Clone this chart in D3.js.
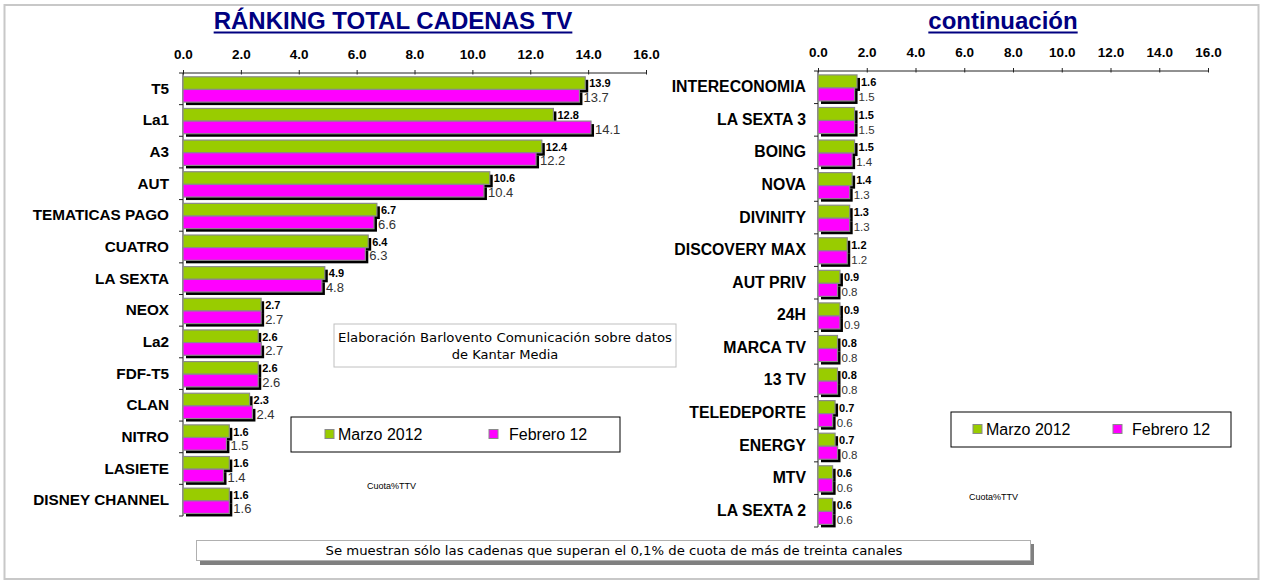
<!DOCTYPE html>
<html>
<head>
<meta charset="utf-8">
<script src="https://cdn.jsdelivr.net/npm/d3@7"></script>
<style>
  body { margin: 0; background: #fff; }
  svg { display: block; font-family: "Liberation Sans", Arial, sans-serif; }
</style>
</head>
<body>
<script>
// datos (cuota %)
var canalesA = ["T5", "La1", "A3", "AUT", "TEMATICAS PAGO", "CUATRO", "LA SEXTA", "NEOX", "La2", "FDF-T5", "CLAN", "NITRO", "LASIETE", "DISNEY CHANNEL"];
var marzoA = [13.9, 12.8, 12.4, 10.6, 6.7, 6.4, 4.9, 2.7, 2.6, 2.6, 2.3, 1.6, 1.6, 1.6];
var febreroA = [13.7, 14.1, 12.2, 10.4, 6.6, 6.3, 4.8, 2.7, 2.7, 2.6, 2.4, 1.5, 1.4, 1.6];

var canalesB = ["INTERECONOMIA", "LA SEXTA 3", "BOING", "NOVA", "DIVINITY", "DISCOVERY MAX", "AUT PRIV", "24H", "MARCA TV", "13 TV", "TELEDEPORTE", "ENERGY", "MTV", "LA SEXTA 2"];
var marzoB = [1.6, 1.5, 1.5, 1.4, 1.3, 1.2, 0.9, 0.9, 0.8, 0.8, 0.7, 0.7, 0.6, 0.6];
var febreroB = [1.5, 1.5, 1.4, 1.3, 1.3, 1.2, 0.8, 0.9, 0.8, 0.8, 0.6, 0.8, 0.6, 0.6];

var ticks = [0, 2, 4, 6, 8, 10, 12, 14, 16];
var series = ["Marzo 2012", "Febrero 12"];
var colores = ["#99cc00", "#ff00ff"];

var W = 1263, H = 584;
var svg = d3.select("body").append("svg").attr("width", W).attr("height", H);

// marco exterior
svg.append("rect").attr("x", 4.5).attr("y", 5).attr("width", 1254).attr("height", 574)
    .style("fill", "none").style("stroke", "#c8c8c8").style("stroke-width", 2);

function panel(o) {
  var x = d3.scaleLinear().domain([0, 16]).range([o.left, o.right]);
  var y = d3.scaleBand().domain(o.cats).range([o.top, o.bottom]);
  var g = svg.append("g");

  // titulo
  var t = g.append("text").attr("x", o.titleX).attr("y", 29)
      .attr("text-anchor", "middle")
      .style("font-size", "24px").style("font-weight", "bold").style("fill", "#000080")
      .text(o.title);
  var bb = t.node().getBBox();
  g.append("rect").attr("x", bb.x).attr("y", 31.5).attr("width", bb.width).attr("height", 2)
      .style("fill", "#000080");

  // eje superior
  var ax = g.append("g").attr("transform", "translate(0," + o.top + ")")
      .call(d3.axisTop(x).tickValues(ticks).tickFormat(d3.format(".1f")).tickSize(3).tickSizeOuter(0).tickPadding(11));
  ax.select(".domain").attr("d", "M" + (o.left - 4) + ",0H" + o.right).style("stroke", "#222");
  ax.selectAll(".tick line").attr("y2", -3).attr("y1", 1.5).style("stroke", "#222");
  ax.selectAll(".tick text").style("font-size", "13.5px").style("font-weight", "bold")
      .style("font-family", "'Liberation Sans', Arial, sans-serif").style("fill", "#000");

  // eje vertical
  g.append("line").attr("x1", o.left).attr("x2", o.left).attr("y1", o.top).attr("y2", o.bottom)
      .style("stroke", "#222");
  g.selectAll(".ytick").data(o.cats).enter().append("line")
      .attr("x1", o.left - 4).attr("x2", o.left)
      .attr("y1", function(d) { return y(d) + y.bandwidth(); })
      .attr("y2", function(d) { return y(d) + y.bandwidth(); })
      .style("stroke", "#222");

  // etiquetas categoria
  g.selectAll(".cat").data(o.cats).enter().append("text")
      .attr("x", o.left - o.labelGap)
      .attr("y", function(d) { return y(d) + y.bandwidth() / 2 + 5; })
      .attr("text-anchor", "end")
      .style("font-size", o.catSize).style("font-weight", "bold").style("fill", "#000")
      .text(function(d) { return d; });

  var bh = y.bandwidth() * 0.4;
  var off = y.bandwidth() * 0.12;
  var vals = [o.marzo, o.febrero];

  vals.forEach(function(v, s) {
    var rows = o.cats.map(function(c, i) { return {c: c, v: v[i]}; });
    var gy = function(d) { return y(d.c) + off + s * bh; };
    var sg = g.append("g");
    // sombra
    sg.selectAll(".sh").data(rows).enter().append("rect")
        .attr("x", x(0) + 3).attr("y", function(d) { return gy(d) + 3; })
        .attr("width", function(d) { return x(d.v) - x(0); })
        .attr("height", bh)
        .style("fill", "#000");
    sg.selectAll(".bar").data(rows).enter().append("rect")
        .attr("x", x(0)).attr("y", gy)
        .attr("width", function(d) { return x(d.v) - x(0); })
        .attr("height", bh)
        .style("fill", colores[s]).style("stroke", "#8a8a8a").style("stroke-width", 1.2);
  });

  // valores
  vals.forEach(function(v, s) {
    var rows = o.cats.map(function(c, i) { return {c: c, v: v[i]}; });
    g.selectAll(".val" + s).data(rows).enter().append("text")
        .attr("x", function(d) { return x(d.v) + 4; })
        .attr("y", function(d) { return y(d.c) + off + s * bh + bh - (s == 0 ? 2 : 0); })
        .style("font-size", s == 0 ? "11px" : o.pinkSize)
        .style("font-weight", s == 0 ? "bold" : "normal")
        .style("fill", s == 0 ? "#000" : "#333")
        .text(function(d) { return d3.format(".1f")(d.v); });
  });
}

panel({cats: canalesA, marzo: marzoA, febrero: febreroA, left: 183, right: 646, top: 73, bottom: 516,
       title: "RÁNKING TOTAL CADENAS TV", titleX: 393, labelGap: 14, pinkSize: "13px", catSize: "15.3px"});
panel({cats: canalesB, marzo: marzoB, febrero: febreroB, left: 818, right: 1208, top: 71, bottom: 527,
       title: "continuación", titleX: 1003, labelGap: 12, pinkSize: "11.5px", catSize: "15.8px"});

// leyendas
function leyenda(bx, by, bw, bhh, pos) {
  var g = svg.append("g");
  g.append("rect").attr("x", bx).attr("y", by).attr("width", bw).attr("height", bhh)
      .style("fill", "#fff").style("stroke", "#000").style("stroke-width", 1);
  series.forEach(function(s, i) {
    g.append("rect").attr("x", pos[i][0]).attr("y", by + bhh / 2 - 5).attr("width", 9).attr("height", 9)
        .style("fill", colores[i]).style("stroke", "#8a8a8a");
    g.append("text").attr("x", pos[i][1]).attr("y", by + bhh / 2 + 5.5)
        .style("font-size", "16px").style("fill", "#000").text(s);
  });
}
leyenda(291, 417, 329, 35, [[325, 338], [489, 509]]);
leyenda(951, 412, 280, 35, [[973, 986], [1113, 1132]]);

svg.append("text").attr("x", 367).attr("y", 489).style("font-size", "9px").text("Cuota%TTV");
svg.append("text").attr("x", 969).attr("y", 500).style("font-size", "9px").text("Cuota%TTV");

// nota Barlovento
svg.append("rect").attr("x", 334).attr("y", 324).attr("width", 342).attr("height", 43)
    .style("fill", "#fff").style("stroke", "#c0c0c0");
svg.append("text").attr("x", 505).attr("y", 342).attr("text-anchor", "middle")
    .style("font-family", "'DejaVu Sans', Verdana, sans-serif").style("font-size", "13px")
    .attr("textLength", 334).attr("lengthAdjust", "spacingAndGlyphs")
    .text("Elaboración Barlovento Comunicación sobre datos");
svg.append("text").attr("x", 505).attr("y", 359).attr("text-anchor", "middle")
    .style("font-family", "'DejaVu Sans', Verdana, sans-serif").style("font-size", "13px")
    .text("de Kantar Media");

// nota inferior
svg.append("rect").attr("x", 200).attr("y", 544).attr("width", 834).attr("height", 21).style("fill", "#808080");
svg.append("rect").attr("x", 196.5).attr("y", 540.5).attr("width", 834).attr("height", 20)
    .style("fill", "#fff").style("stroke", "#b0b0b0");
svg.append("text").attr("x", 614).attr("y", 555).attr("text-anchor", "middle")
    .style("font-family", "'DejaVu Sans Condensed', 'Liberation Sans Narrow', sans-serif")
    .style("font-stretch", "condensed").style("font-size", "13px")
    .attr("textLength", 577).attr("lengthAdjust", "spacingAndGlyphs")
    .text("Se muestran sólo las cadenas que superan el 0,1% de cuota de más de treinta canales");
</script>
</body>
</html>
